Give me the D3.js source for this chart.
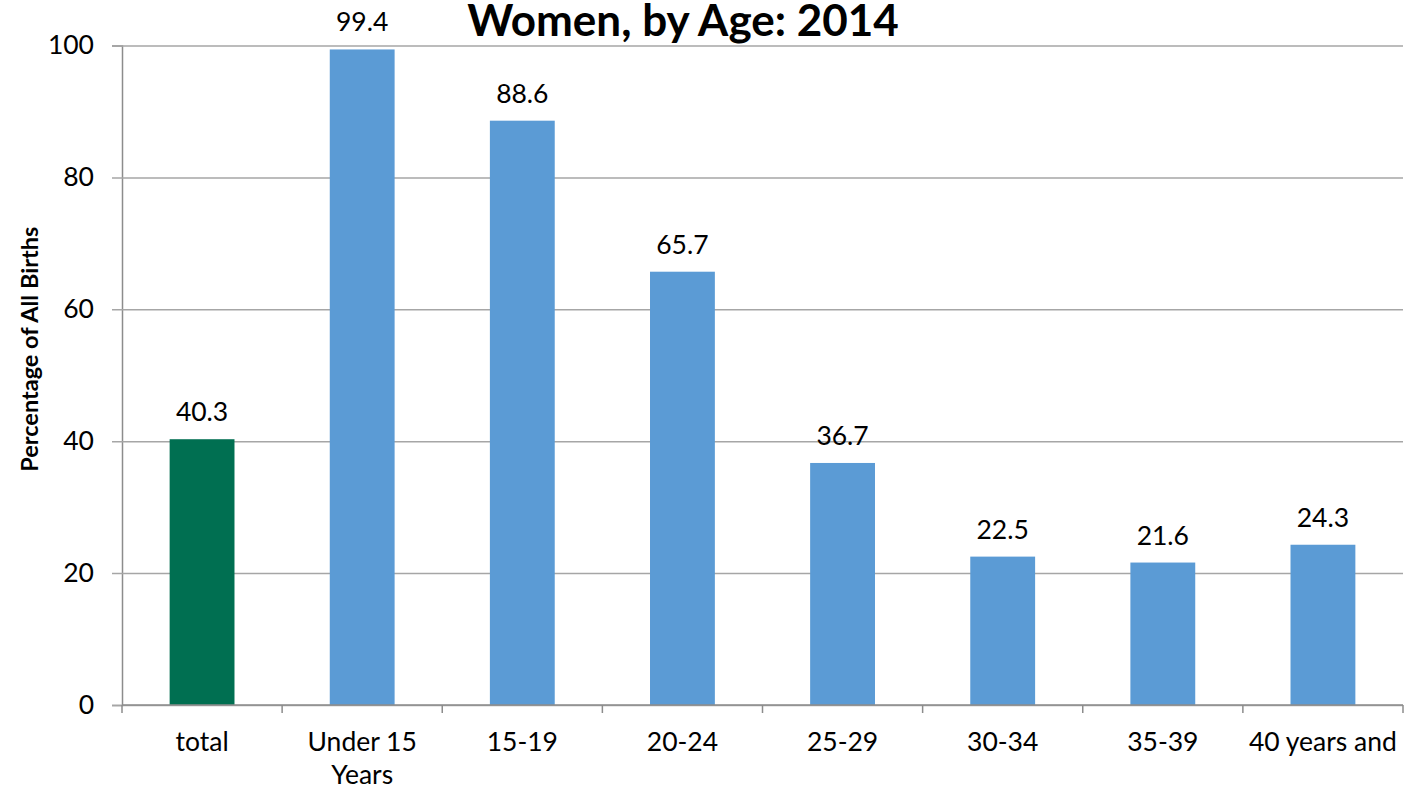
<!DOCTYPE html>
<html>
<head>
<meta charset="utf-8">
<script src="https://cdn.jsdelivr.net/npm/d3@7"></script>
<style>
  body { margin: 0; background: #fff; }
  svg text { font-family: Lato, "Open Sans", sans-serif; fill: #000; }
</style>
</head>
<body>
<svg id="chart" width="1419" height="789"></svg>
<script>
let categories = ["total", "Under 15 Years", "15-19", "20-24", "25-29", "30-34", "35-39", "40 years and older"]
let values = [40.3, 99.4, 88.6, 65.7, 36.7, 22.5, 21.6, 24.3]
// only the lines that show in the picture
let tickLines = [["total"], ["Under 15", "Years"], ["15-19"], ["20-24"], ["25-29"], ["30-34"], ["35-39"], ["40 years and"]]
let yTicks = [0, 20, 40, 60, 80, 100]

let svg = d3.select("#chart")
let margin = { top: 45.5, right: 16, bottom: 84, left: 122 }
let width = 1419, height = 789
let fs = "26.5px"

let x = d3.scaleBand()
  .domain(categories)
  .range([margin.left, width - margin.right])
  .paddingInner(0.595)
  .paddingOuter(0.2975)

let y = d3.scaleLinear()
  .domain([0, 100])
  .range([height - margin.bottom, margin.top])

// gridlines + y axis
let yAxis = svg.append("g")
  .attr("transform", `translate(${margin.left},0)`)
  .call(d3.axisLeft(y).tickValues(yTicks).tickSize(10).tickPadding(18))
yAxis.select(".domain").attr("stroke", "#8c8c8c").attr("stroke-width", 1.5)
yAxis.selectAll(".tick line")
  .attr("x1", width - margin.right - margin.left)
  .attr("x2", -10)
  .attr("stroke", "#a6a6a6").attr("stroke-width", 1.5)
yAxis.selectAll(".tick text").style("font-size", fs)

// bars
svg.append("g").selectAll("rect")
  .data(values)
  .join("rect")
  .attr("x", (d, i) => x(categories[i]))
  .attr("y", d => y(d))
  .attr("width", x.bandwidth())
  .attr("height", d => y(0) - y(d))
  .attr("fill", (d, i) => i == 0 ? "#006f51" : "#5b9bd5")

// value labels
svg.append("g").selectAll("text")
  .data(values)
  .join("text")
  .attr("x", (d, i) => x(categories[i]) + x.bandwidth() / 2)
  .attr("y", d => y(d) - 18)
  .attr("text-anchor", "middle")
  .style("font-size", fs)
  .text(d => d.toFixed(1))

// x axis
let xAxis = svg.append("g")
  .attr("transform", `translate(0,${y(0)})`)
let step = x.step()
xAxis.append("line")
  .attr("x1", margin.left).attr("x2", width - margin.right)
  .attr("stroke", "#8c8c8c").attr("stroke-width", 1.5)
xAxis.selectAll(".cat-tick")
  .data(d3.range(categories.length + 1))
  .join("line")
  .attr("class", "cat-tick")
  .attr("x1", i => margin.left + i * step)
  .attr("x2", i => margin.left + i * step)
  .attr("y1", 0).attr("y2", 8)
  .attr("stroke", "#8c8c8c").attr("stroke-width", 1.5)

xAxis.selectAll(".cat-label")
  .data(tickLines)
  .join("text")
  .attr("class", "cat-label")
  .attr("text-anchor", "middle")
  .style("font-size", fs)
  .each(function (lines, i) {
    d3.select(this).selectAll("tspan")
      .data(lines)
      .join("tspan")
      .attr("x", x(categories[i]) + x.bandwidth() / 2)
      .attr("y", (l, j) => 46 + j * 33)
      .text(l => l)
  })

// y axis title
svg.append("text")
  .attr("transform", `translate(38,${(y(0) + y(100)) / 2 - 26}) rotate(-90)`)
  .attr("text-anchor", "middle")
  .style("font-size", "23.5px")
  .style("font-weight", "bold")
  .text("Percentage of All Births")

// title (sits right at the top edge in the original)
svg.append("text")
  .attr("x", 683)
  .attr("y", 36)
  .attr("text-anchor", "middle")
  .style("font-size", "44px")
  .style("font-weight", "bold")
  .text("Women, by Age: 2014")
</script>
</body>
</html>
